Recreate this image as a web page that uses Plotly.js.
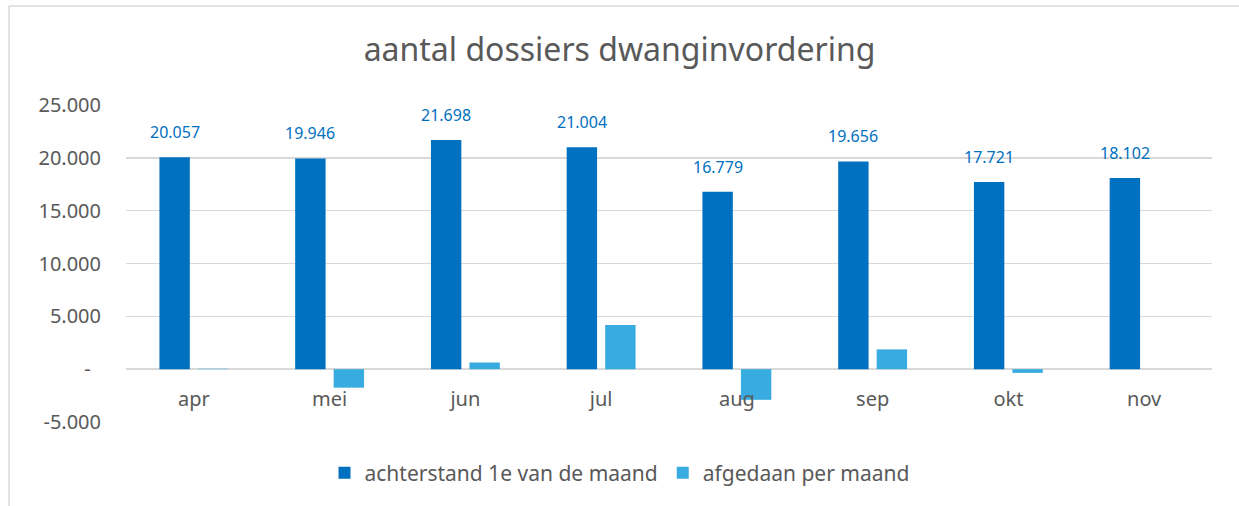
<!DOCTYPE html>
<html>
<head>
<meta charset="utf-8">
<script src="https://cdn.plot.ly/plotly-3.0.1.min.js"></script>
<style>html,body{margin:0;padding:0;background:#fff;}#chart{width:1239px;height:506px;}</style>
</head>
<body>
<div id="chart"></div>
<script>
var months = ['apr','mei','jun','jul','aug','sep','okt','nov'];
var achterstand = [20057, 19946, 21698, 21004, 16779, 19656, 17721, 18102];
var afgedaan = [40, -1750, 630, 4180, -2900, 1870, -350, null];
var yTickVals = [-5000, 0, 5000, 10000, 15000, 20000, 25000];
var yTickText = ['-5.000', '-\u00a0\u00a0', '5.000', '10.000', '15.000', '20.000', '25.000'];
var seriesNames = ['achterstand 1e van de maand', 'afgedaan per maand'];
var titleText = 'aantal dossiers dwanginvordering';

function fmtNL(v) {
  var s = Math.round(Math.abs(v)).toString();
  var out = '';
  while (s.length > 3) { out = '.' + s.slice(-3) + out; s = s.slice(0, -3); }
  return (v < 0 ? '-' : '') + s + out;
}

var FONT = 'Noto Sans, Open Sans, sans-serif';
var GREY = '#595959';
var GRID = '#d9d9d9';

var traces = [
  {type: 'bar', name: seriesNames[0], x: months, y: achterstand, marker: {color: '#0070C0'}, hoverinfo: 'none'},
  {type: 'bar', name: seriesNames[1], x: months, y: afgedaan, marker: {color: '#38ABE0'}, hoverinfo: 'none'}
];

var annotations = months.map(function (m, i) {
  return {
    x: m, y: achterstand[i], xref: 'x', yref: 'y',
    text: fmtNL(achterstand[i]), showarrow: false,
    xanchor: 'center', yanchor: 'bottom', xshift: -19.25, yshift: 12,
    font: {family: FONT, size: 16, color: '#0070C0'}
  };
});

var layout = {
  width: 1239, height: 506,
  margin: {l: 126, r: 27, t: 105, b: 84},
  paper_bgcolor: '#ffffff', plot_bgcolor: '#ffffff',
  font: {family: FONT, color: GREY},
  title: {text: titleText, x: 0.5, xref: 'container', xanchor: 'center', y: 1 - 50 / 506, yref: 'container', yanchor: 'middle',
          font: {family: FONT, size: 32, color: GREY}},
  barmode: 'group', bargap: 0.433, bargroupgap: 0.21,
  xaxis: {anchor: 'free', position: 5000 / 30000, showline: false, showgrid: false, zeroline: false, ticks: '',
          ticklabelstandoff: 16, tickfont: {family: FONT, size: 20, color: GREY}, fixedrange: true},
  yaxis: {range: [-5000, 25000], tickvals: yTickVals, ticktext: yTickText, showgrid: true, gridcolor: GRID, gridwidth: 1.5,
          zeroline: true, zerolinecolor: GRID, zerolinewidth: 1.5, showline: false, ticks: '',
          ticklabelstandoff: 24, tickfont: {family: FONT, size: 20, color: GREY}, fixedrange: true},
  showlegend: true,
  legend: {orientation: 'h', xref: 'container', yref: 'container', x: 0.5, xanchor: 'center', y: 1 - 473 / 506, yanchor: 'middle',
           font: {family: FONT, size: 21, color: GREY}, bgcolor: 'rgba(0,0,0,0)'},
  annotations: annotations,
  shapes: [
    {type: 'line', xref: 'paper', yref: 'paper', x0: -0.10773, x1: 1.1, y0: 1.3123, y1: 1.3123, line: {color: GRID, width: 1.5}},
    {type: 'line', xref: 'paper', yref: 'paper', x0: -0.10773, x1: -0.10773, y0: 1.3123, y1: -0.3, line: {color: GRID, width: 1.5}}
  ]
};

Plotly.newPlot('chart', traces, layout, {staticPlot: true, displayModeBar: false});
</script>
</body>
</html>
